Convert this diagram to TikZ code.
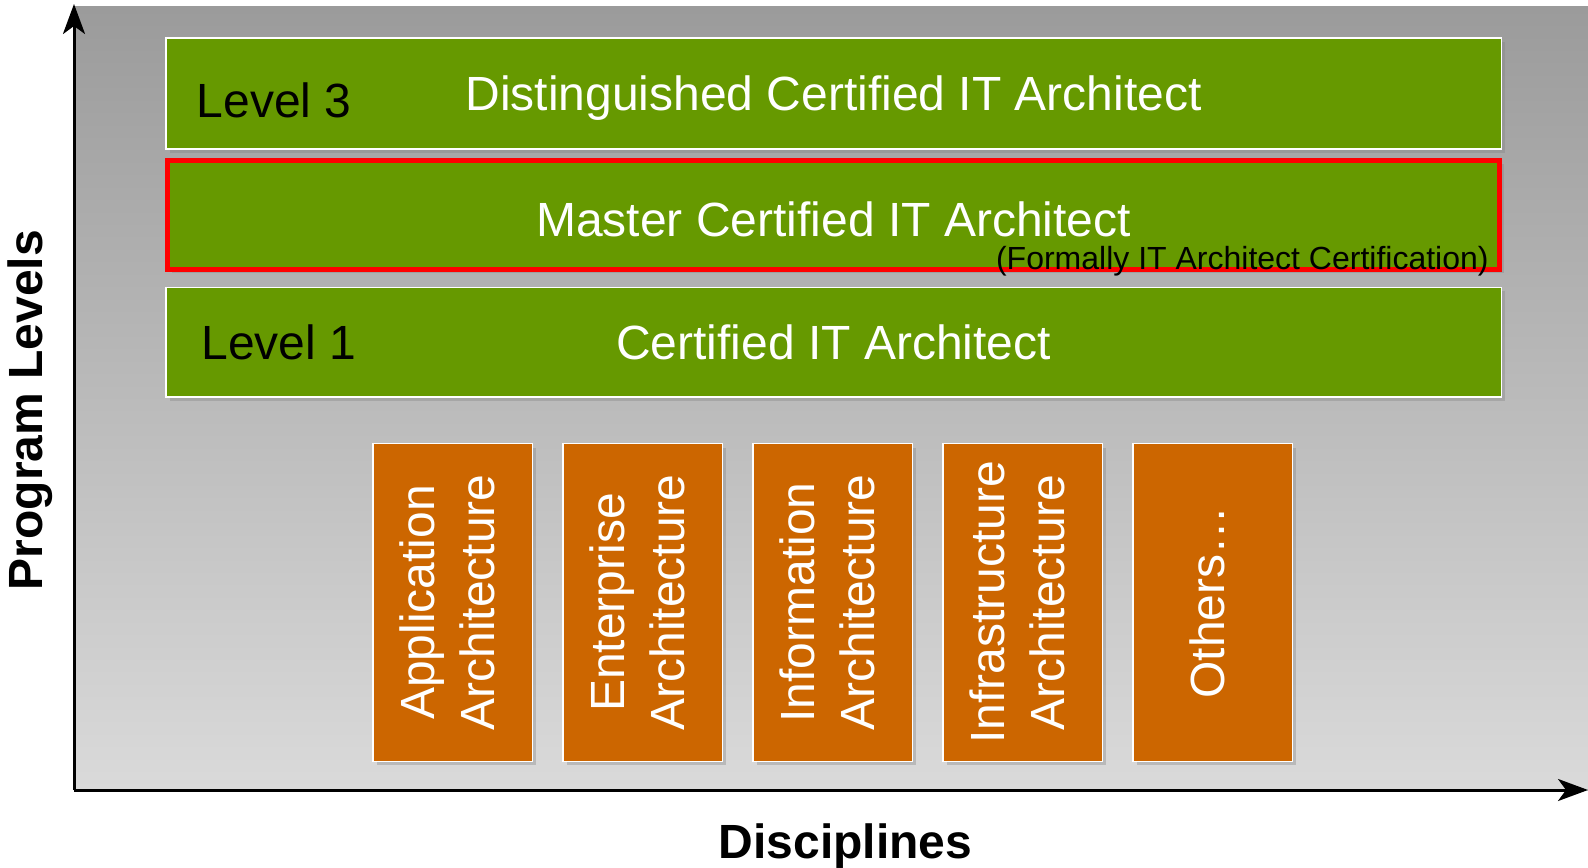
\documentclass[tikz,border=0pt]{standalone}
\usepackage{fontspec}
\setmainfont{Liberation Sans}
\usepackage{graphicx}
\usepackage{tikz}
\usetikzlibrary{positioning,shadows,arrows.meta}

\definecolor{levelgreen}{RGB}{102,153,0}
\definecolor{disciporange}{RGB}{204,102,0}
\definecolor{paneltop}{RGB}{155,155,155}
\definecolor{panelbottom}{RGB}{218,218,218}

\newcommand{\bigtext}{\fontsize{24}{30}\selectfont}
\newcommand{\vlabel}[1]{\rotatebox{90}{\begin{tabular}{@{}c@{}}#1\end{tabular}}}

\begin{document}
\begin{tikzpicture}[x=0.5pt,y=0.5pt]
            \tikzstyle{level box}=[draw=white,line width=0.75pt,fill=levelgreen,text=white,font=\bigtext,
                minimum width=667.75pt,minimum height=55.5pt,inner sep=0pt,text height=17.2pt,text depth=0pt,
                drop shadow={opacity=0.35,shadow xshift=2pt,shadow yshift=-2pt}]
            \tikzstyle{level name}=[text=black,font=\bigtext,inner sep=0pt,text height=17.2pt,text depth=0pt]
            \tikzstyle{discipline}=[draw=white,line width=0.75pt,fill=disciporange,text=white,font=\bigtext,
                minimum width=79.75pt,minimum height=158.75pt,inner sep=0pt,
                drop shadow={opacity=0.35,shadow xshift=2pt,shadow yshift=-2pt}]
            \tikzstyle{axis title}=[font=\bigtext\bfseries,inner sep=0pt]
            \tikzstyle{axis}=[line width=1.5pt,-{Stealth[length=15pt,width=11pt,inset=4pt]}]
            \useasboundingbox (0,0) rectangle (1588,867);
            \shade[top color=paneltop,bottom color=panelbottom] (74,77) rectangle (1588,860);
            \coordinate (origin) at (74,77);
            \coordinate (ytip) at (74,863);
            \coordinate (xtip) at (1588,77);
            \draw[axis] (origin) -- (ytip);
            \draw[axis] (origin) -- (xtip);
            \node[level box] (dcita) at (833.5,773.5) {Distinguished Certified IT Architect};
            \node[level box,draw=red,line width=2.5pt,minimum width=666pt,minimum height=54.5pt,text height=21.7pt,
                below=4pt of dcita] (mcita) {Master Certified IT Architect};
            \node[level box,minimum height=54.75pt,below=7.5pt of mcita] (cita) {Certified IT Architect};
            \node[level name,right=15.75pt of dcita.west,yshift=-3.5pt] (lvl3) {Level 3};
            \node[level name,right=18pt of cita.west] (lvl1) {Level 1};
            \node[font=\fontsize{16}{19}\selectfont,anchor=base east,inner sep=0pt] (formerly)
                at ([xshift=-6.5pt,yshift=1.25pt]mcita.south east) {(Formally IT Architect Certification)};
            \node[discipline] (appl) at (452.5,264.5) {\vlabel{Application\\Architecture}};
            \node[discipline,right=14.5pt of appl] (entr) {\vlabel{Enterprise\\Architecture}};
            \node[discipline,right=14.5pt of entr] (info) {\vlabel{Information\\Architecture}};
            \node[discipline,right=14.5pt of info] (infra) {\vlabel{Infrastructure\\Architecture}};
            \node[discipline,right=14.5pt of infra] (others) {\vlabel{Others\ldots}};
            \node[axis title,rotate=90] (levels) at (30,457) {Program Levels};
            \node[axis title] (disciplines) at (845.5,21) {Disciplines};
        \end{tikzpicture}
\end{document}
